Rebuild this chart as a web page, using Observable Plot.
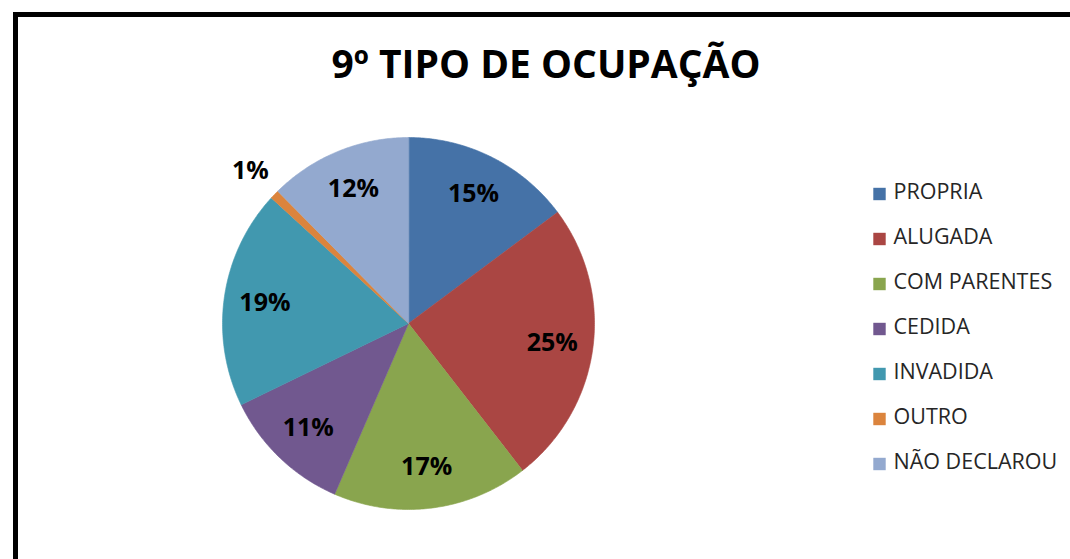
<!DOCTYPE html>
<html>
<head>
<meta charset="utf-8">
<script src="https://cdn.jsdelivr.net/npm/d3@7"></script>
<script src="https://cdn.jsdelivr.net/npm/@observablehq/plot@0.6"></script>
<style>
  html, body { margin: 0; padding: 0; background: #fff; }
  #stage { position: relative; width: 1070px; height: 559px; overflow: hidden; background: #fff; }
  #frame { position: absolute; left: 13px; top: 12px; width: 1120px; height: 620px; border: 5px solid #000; box-sizing: border-box; }
  #title { position: absolute; left: 546px; top: 36px; transform: translateX(-50%); white-space: nowrap;
           font-family: "Open Sans", sans-serif; font-weight: 700; font-size: 39px; color: #000; line-height: normal; }
  #pie { position: absolute; left: 208px; top: 123px; }
  #legend { position: absolute; left: 860px; top: 160px; }
</style>
</head>
<body>
<div id="stage">
  <div id="frame"></div>
  <div id="title">9º TIPO DE OCUPAÇÃO</div>
  <div id="pie"></div>
  <div id="legend"></div>
</div>
<script>
const categories = ["PROPRIA", "ALUGADA", "COM PARENTES", "CEDIDA", "INVADIDA", "OUTRO", "NÃO DECLAROU"];
const shares = [14.8, 24.7, 17.0, 11.3, 19.0, 0.8, 12.4];
const colors = ["#4572A7", "#AA4643", "#89A54E", "#71588F", "#4198AF", "#DB843D", "#93A9CF"];

const data = categories.map((c, i) => ({cat: c, v: shares[i], label: Math.round(shares[i]) + "%"}));
const arcs = d3.pie().sort(null).value(d => d.v)(data);

// slice outlines (unit circle, angle measured clockwise from 12 o'clock)
const pts = [];
for (const a of arcs) {
  pts.push({cat: a.data.cat, x: 0, y: 0});
  const n = Math.max(2, Math.ceil((a.endAngle - a.startAngle) / 0.01));
  for (let k = 0; k <= n; k++) {
    const t = a.startAngle + (a.endAngle - a.startAngle) * k / n;
    pts.push({cat: a.data.cat, x: Math.sin(t), y: Math.cos(t)});
  }
}
const labels = arcs.map(a => {
  const m = (a.startAngle + a.endAngle) / 2;
  const r = a.data.v < 3 ? 1.18 : 0.78;
  return {label: a.data.label, x: r * Math.sin(m), y: r * Math.cos(m)};
});

const color = {domain: categories, range: colors};

const pie = Plot.plot({
  width: 400, height: 400,
  margin: 14,
  x: {domain: [-1, 1], axis: null},
  y: {domain: [-1, 1], axis: null},
  color,
  style: {background: "transparent", overflow: "visible"},
  marks: [
    Plot.line(pts, {x: "x", y: "y", z: "cat", fill: "cat", stroke: "cat", strokeWidth: 0.6, curve: "linear-closed"}),
    Plot.text(labels, {x: "x", y: "y", text: "label", fill: "#000", fontSize: 25, fontWeight: 700,
      fontFamily: "Open Sans, sans-serif"})
  ]
});
document.getElementById("pie").appendChild(pie);

const legend = Plot.plot({
  width: 210, height: 330,
  margin: 0,
  y: {type: "point", domain: categories, range: [31.5, 302], padding: 0, axis: null},
  color,
  style: {background: "transparent", overflow: "visible"},
  marks: [
    Plot.dot(categories, {y: d => d, fill: d => d, symbol: "square", r: 7, frameAnchor: "left", dx: 19, dy: 1.5}),
    Plot.text(categories, {y: d => d, text: d => d, frameAnchor: "left", dx: 33, textAnchor: "start",
      fill: "#262626", fontSize: 21.5, fontFamily: "Open Sans, sans-serif"})
  ]
});
document.getElementById("legend").appendChild(legend);
</script>
</body>
</html>
